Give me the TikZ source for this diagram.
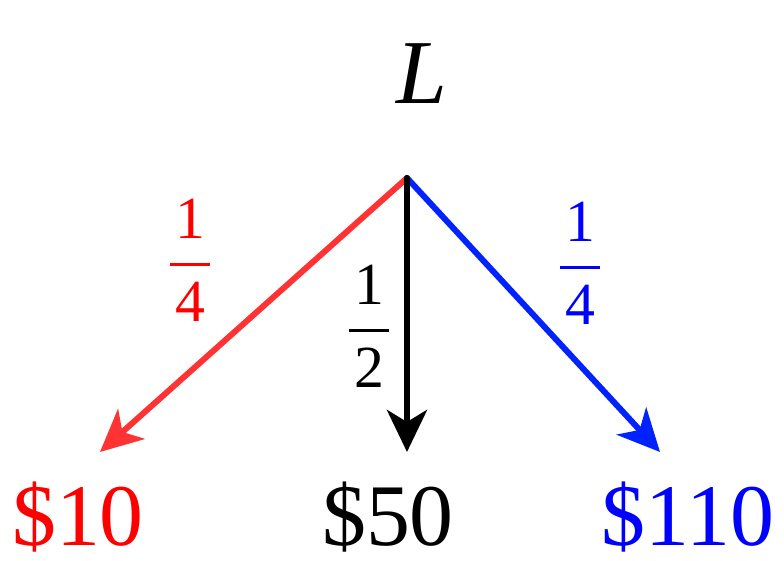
\documentclass[tikz,border=0pt]{standalone}
\usepackage{amsmath}
\usepackage{fontspec}
\setmainfont{Liberation Serif}
\usepackage{tikz}
\usetikzlibrary{arrows.meta}
\definecolor{lotred}{RGB}{255,51,51}
\definecolor{lotblue}{RGB}{0,34,255}
\newcommand{\probfrac}[2]{$\genfrac{}{}{0.8pt}{0}{\text{\kern1.5pt#1\kern1.5pt}}{\text{\kern1.5pt#2\kern1.5pt}}$}

\begin{document}
\begin{tikzpicture}[
        prize/.style = {anchor=base, inner sep=0pt, font=\fontsize{25}{30}\selectfont},
        prob/.style = {inner sep=0pt, font=\fontsize{17}{20}\selectfont},
        branch/.style = {line width=1.7pt, line cap=round, -{Stealth[length=0.42cm, width=0.40cm, inset=0.12cm]}}
    ]
        \useasboundingbox (0,0) rectangle (7.84,-5.61);

        % === Lottery ===
        \node (lottery) [prize, font=\fontsize{26}{30}\selectfont] at (4.22,-1.04) {\textit{L}};
        \coordinate (root) at (4.07,-1.78);

        % === Outcomes ===
        \coordinate (tipLow) at (1.00,-4.52);
        \coordinate (tipMid) at (4.07,-4.52);
        \coordinate (tipHigh) at (6.60,-4.52);

        \node (prizeLow) [prize, text=red] at (0.78,-5.46) {\$10};
        \node (prizeMid) [prize] at (3.88,-5.46) {\$50};
        \node (prizeHigh) [prize, text=blue] at (6.88,-5.46) {\$110};

        % === Probabilities ===
        \node (probLow) [prob, text=red] at (1.90,-2.60) {\probfrac{1}{4}};
        \node (probMid) [prob] at (3.69,-3.26) {\probfrac{1}{2}};
        \node (probHigh) [prob, text=blue] at (5.80,-2.63) {\probfrac{1}{4}};

        % === Branches ===
        \draw [branch, draw=lotred, fill=lotred] (root) -- (tipLow);
        \draw [branch, draw=lotblue, fill=lotblue] (root) -- (tipHigh);
        \draw [branch, draw=black] (root) -- (tipMid);

\end{tikzpicture}
\end{document}
